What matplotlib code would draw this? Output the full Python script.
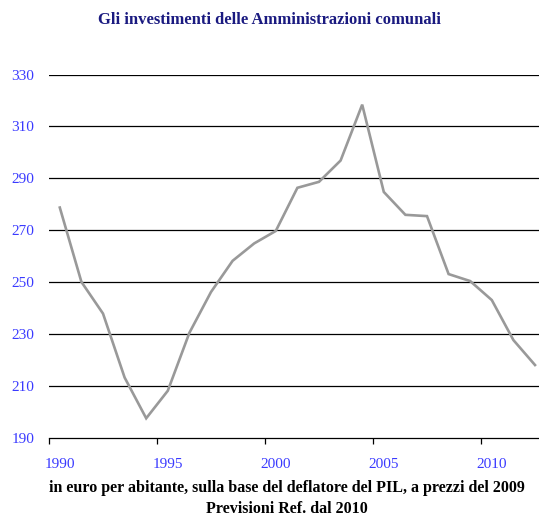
import matplotlib.pyplot as plt

years = list(range(1990, 2013))
values = [278.8, 250.2, 238.0, 213.4, 197.7, 208.3, 230.6, 246.3, 258.3, 265.0,
          269.8, 286.4, 288.7, 296.9, 318.4, 284.8, 276.0, 275.5, 253.2, 250.5,
          243.2, 227.8, 218.2]
yticks = [190, 210, 230, 250, 270, 290, 310, 330]
xlabels = [1990, 1995, 2000, 2005, 2010]

serif = ['Liberation Serif', 'DejaVu Serif']
blue = '#3a3aff'

fig = plt.figure(figsize=(5.39, 5.18), dpi=100)
ax = fig.add_axes([49 / 539, 1 - 438.3 / 518, 490 / 539, (438.3 - 74.5) / 518])

ax.plot(years, values, color='#999999', lw=1.9, solid_joinstyle='miter', zorder=3)

ax.set_ylim(190, 330)
ax.set_xlim(1989.5, 1989.5 + 490 / 21.6)
for y in yticks[1:]:
    ax.axhline(y, color='black', lw=0.9, zorder=1)

for s in ['top', 'right', 'left']:
    ax.spines[s].set_visible(False)
ax.spines['bottom'].set_color('black')
ax.spines['bottom'].set_linewidth(0.9)

# major ticks at category boundaries, labels on minor ticks at centres
ax.set_xticks([x - 0.5 for x in xlabels])
ax.set_xticklabels([])
ax.tick_params(axis='x', which='major', length=4, width=0.9, color='black', direction='out')
ax.set_xticks(xlabels, minor=True)
ax.set_xticklabels([str(x) for x in xlabels], minor=True)
ax.tick_params(axis='x', which='minor', length=0, pad=14, labelsize=11, labelcolor=blue)

ax.set_yticks(yticks)
ax.set_yticklabels([str(y) for y in yticks])
ax.tick_params(axis='y', length=0, pad=10.5, labelsize=11, labelcolor=blue)

for lab in ax.get_xticklabels(minor=True) + ax.get_yticklabels():
    lab.set_family(serif)

fig.text(0.5, 1 - 20 / 518, 'Gli investimenti delle Amministrazioni comunali',
         ha='center', va='center', family=serif, fontsize=12, fontweight='bold',
         color='#1a1a80')
fig.text(287 / 539, 1 - 488 / 518,
         'in euro per abitante, sulla base del deflatore del PIL, a prezzi del 2009',
         ha='center', va='center', family=serif, fontsize=11.5, fontweight='bold',
         color='black')
fig.text(287 / 539, 1 - 509 / 518, 'Previsioni Ref. dal 2010',
         ha='center', va='center', family=serif, fontsize=11.5, fontweight='bold',
         color='black')

fig.savefig('out.png', dpi=100)
